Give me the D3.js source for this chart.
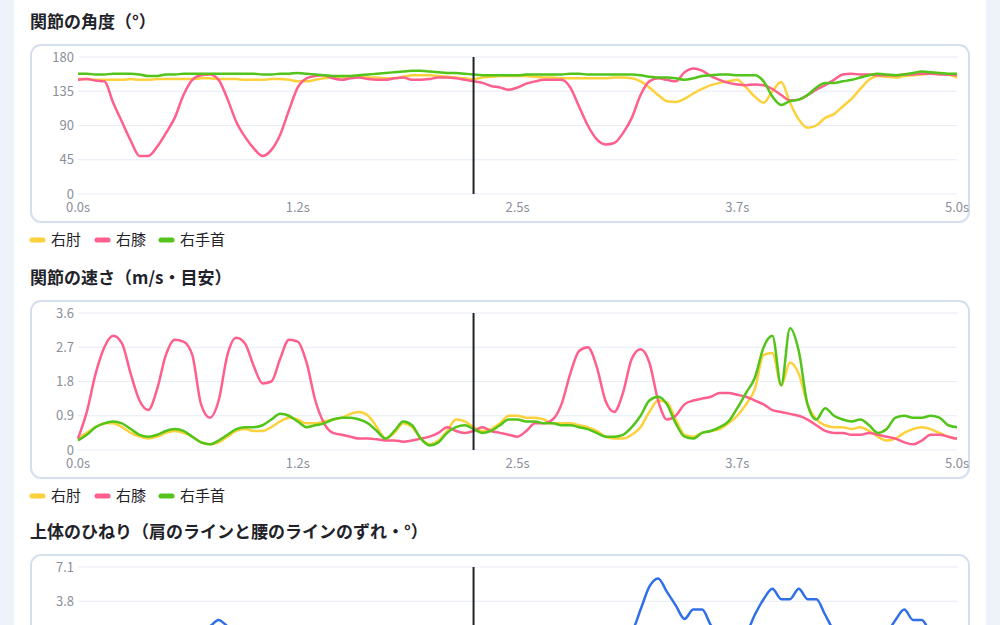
<!DOCTYPE html>
<html>
<head>
<meta charset="utf-8">
<script src="https://cdn.jsdelivr.net/npm/d3@7"></script>
<style>
  body { margin: 0; background: #eef2f9; font-family: "Noto Sans CJK JP", "Noto Sans", sans-serif; overflow: hidden; }
  #card { position: absolute; left: 14px; top: 0; width: 972px; height: 640px; background: #fff; }
</style>
</head>
<body>
<div id="card"></div>
<script>
// time samples every 0.05s, 0..5s
var times = d3.range(101).map(i => i * 0.05);
var markerTime = 2.25;
var xTickValues = [0, 1.25, 2.5, 3.75, 5];
var xTickLabels = ["0.0s", "1.2s", "2.5s", "3.7s", "5.0s"];

// chart 1: joint angles (deg)
var angleTicks = [0, 45, 90, 135, 180];
var angleElbow = [151,151,150,150,150,150,151,150,150,151,151,151,151,151,152,152,151,151,151,150,150,
  150,151,151,150,148,148,150,152,153,154,154,154,153,153,152,152,154,156,156,156,
  155,154,153,152,151,153,154,155,155,155,155,154,153,153,152,152,152,152,152,152,
  153,153,152,148,140,130,122,121,125,132,138,143,146,148,150,140,128,120,135,147,
  120,98,87,90,100,105,115,125,138,150,155,154,153,155,156,157,158,158,157,153];
var angleKnee = [150,151,149,148,120,95,70,50,50,62,80,100,130,150,156,157,150,125,95,75,60,
  50,58,78,110,140,152,155,156,152,150,152,153,151,150,150,152,153,150,150,
  151,153,153,152,150,148,146,142,140,137,
  140,145,148,150,150,150,140,115,90,72,65,67,80,100,130,148,152,150,148,160,
  165,162,155,150,146,144,143,144,143,138,130,123,124,130,137,143,150,157,158,157,
  157,156,156,156,157,157,158,158,157,157,156];
var angleWrist = [158,158,157,157,158,158,158,157,155,155,157,157,158,158,158,158,158,158,158,158,158,
  157,157,158,158,159,158,157,156,155,155,155,156,157,158,159,160,161,162,162,161,
  160,159,159,158,157,156,156,156,156,156,157,157,157,157,157,158,158,157,157,157,
  157,157,157,156,154,153,153,152,150,152,155,156,157,157,156,156,156,148,128,117,
  122,124,130,140,146,146,148,150,153,156,158,157,156,157,159,161,160,159,158,158];

// chart 2: joint speeds (m/s, rough)
var speedTicks = [0, 0.9, 1.8, 2.7, 3.6];
var speedElbow = [0.3,0.45,0.6,0.7,0.7,0.6,0.45,0.35,0.3,0.35,0.45,0.5,0.45,0.35,0.2,0.15,0.2,0.35,0.5,0.55,0.5,
  0.5,0.6,0.75,0.85,0.8,0.7,0.7,0.75,0.8,0.85,
  0.95,1.0,0.9,0.6,0.3,0.45,0.7,0.6,0.3,0.15,
  0.25,0.5,0.8,0.75,0.6,0.5,0.55,0.7,0.9,0.9,
  0.85,0.85,0.8,0.7,0.7,0.7,0.65,0.6,0.5,0.35,0.3,0.3,0.4,0.6,1.0,1.3,1.25,0.8,0.4,0.35,
  0.45,0.5,0.55,0.7,0.9,1.2,1.6,2.5,2.55,1.7,
  2.3,2.0,1.2,0.8,0.65,0.6,0.6,0.55,0.6,0.5,
  0.35,0.25,0.3,0.45,0.55,0.6,0.55,0.45,0.35,0.3];
var speedKnee = [0.3,1.0,2.0,2.7,3.0,2.8,2.0,1.3,1.05,1.6,2.5,2.9,2.85,2.5,1.2,0.85,1.3,2.5,2.95,2.8,2.2,
  1.75,1.8,2.4,2.9,2.85,2.3,1.3,0.7,0.45,0.4,
  0.35,0.3,0.3,0.28,0.25,0.25,0.22,0.25,0.3,0.35,0.45,0.6,0.5,0.45,0.5,0.6,0.5,0.45,0.4,0.35,
  0.5,0.7,0.7,0.8,1.2,2.0,2.6,2.7,2.2,1.3,1.0,1.5,2.4,2.65,2.3,1.3,0.8,0.9,1.2,1.3,1.35,
  1.4,1.5,1.5,1.45,1.4,1.3,1.2,1.05,1.0,0.95,0.9,0.8,0.65,0.5,0.45,
  0.45,0.4,0.4,0.45,0.4,0.35,0.3,0.2,0.15,0.25,0.4,0.4,0.35,0.3,0.25];
var speedWrist = [0.25,0.4,0.6,0.7,0.75,0.7,0.55,0.4,0.35,0.4,0.5,0.55,0.5,0.35,0.2,0.15,0.25,0.4,0.55,0.6,0.6,
  0.65,0.8,0.95,0.9,0.75,0.6,0.65,0.7,0.8,0.85,
  0.85,0.8,0.7,0.5,0.3,0.5,0.75,0.65,0.3,0.12,
  0.2,0.45,0.6,0.65,0.55,0.45,0.5,0.65,0.8,0.8,
  0.75,0.75,0.7,0.7,0.65,0.65,0.6,0.55,0.45,0.35,0.35,0.4,0.6,0.9,1.3,1.4,1.2,0.7,0.35,0.3,
  0.45,0.5,0.6,0.75,1.1,1.5,1.9,2.7,3.0,1.7,
  3.2,2.6,1.2,0.8,1.1,0.9,0.8,0.75,0.8,0.65,
  0.45,0.55,0.85,0.9,0.85,0.85,0.9,0.85,0.65,0.6];

// chart 3: upper body twist (deg)
var twistTicks = [-6.1, -2.8, 0.5, 3.8, 7.1];
var twistValues = [0.2,0.3,0.4,0.5,0.6,0.6,0.5,0.4,0.5,0.6,0.7,0.8,0.9,1.0,1.1,1.4,2.0,1.4,1.0,0.8,0.6,
  0.5,0.4,0.3,0.3,0.2,0.2,0.1,0.1,0.0,0.0,0.0,0.1,0.1,0.2,0.2,0.3,0.3,0.2,0.2,0.1,
  0.1,0.2,0.3,0.3,0.4,0.4,0.5,0.5,0.6,0.6,0.6,0.5,0.5,0.4,0.4,0.3,0.3,0.4,0.5,0.6,
  0.7,0.8,1.0,3.0,5.2,6.0,4.7,3.4,2.1,3.0,3.0,1.5,0.5,0.4,0.5,0.8,2.5,4.0,5.0,4.0,
  4.0,5.0,4.0,4.0,2.5,1.0,0.5,0.4,0.4,0.4,0.5,0.8,2.0,3.0,2.0,2.0,0.8,0.5,0.4,0.4];

var colors = { elbow: "#fdd13b", knee: "#ff5f8c", wrist: "#52c41a", twist: "#2f6fe8" };
var jointLegend = [["右肘", colors.elbow], ["右膝", colors.knee], ["右手首", colors.wrist]];

var svg = d3.select("body").append("svg")
    .attr("width", 1000).attr("height", 625)
    .style("position", "absolute").style("left", 0).style("top", 0);

function drawChart(top, title, ticks, tickFmt, series, legend) {
  var g = svg.append("g").attr("transform", `translate(0,${top})`);
  g.append("text").attr("x", 30).attr("y", 0).attr("dy", "0.35em")
    .attr("font-size", 17).attr("font-weight", 700).attr("fill", "#1f2329").text(title);

  g.append("rect").attr("x", 31).attr("y", 23).attr("width", 938).attr("height", 177)
    .attr("rx", 10).attr("fill", "#fff").attr("stroke", "#d6dfee").attr("stroke-width", 2);

  var x = d3.scaleLinear().domain([0, 5]).range([78, 957]);
  var y = d3.scaleLinear().domain([ticks[0], ticks[ticks.length - 1]]).range([172, 35]);

  g.append("g").selectAll("line").data(ticks).join("line")
    .attr("x1", 78).attr("x2", 957).attr("y1", d => y(d)).attr("y2", d => y(d))
    .attr("stroke", "#e6ebf4").attr("stroke-width", 1);
  g.append("g").selectAll("text").data(ticks).join("text")
    .attr("x", 74).attr("y", d => y(d)).attr("dy", "0.35em").attr("text-anchor", "end")
    .attr("font-size", 13).attr("fill", "#8a8f99").text(tickFmt);
  g.append("g").selectAll("text").data(xTickValues).join("text")
    .attr("x", d => x(d)).attr("y", 185).attr("dy", "0.35em").attr("text-anchor", "middle")
    .attr("font-size", 13).attr("fill", "#8a8f99").text((d, i) => xTickLabels[i]);

  var line = d3.line().x((d, i) => x(times[i])).y(d => y(d)).curve(d3.curveMonotoneX);
  series.forEach(s => {
    g.append("path").attr("d", line(s[0])).attr("fill", "none")
      .attr("stroke", s[1]).attr("stroke-width", 2.5).attr("stroke-linejoin", "round");
  });

  g.append("line").attr("x1", x(markerTime)).attr("x2", x(markerTime))
    .attr("y1", y.range()[1]).attr("y2", y.range()[0])
    .attr("stroke", "#1f2329").attr("stroke-width", 2);

  if (legend) {
    var lx = [30, 95, 159];
    legend.forEach((l, i) => {
      g.append("line").attr("x1", lx[i] + 2).attr("x2", lx[i] + 13).attr("y1", 218).attr("y2", 218)
        .attr("stroke", l[1]).attr("stroke-width", 5).attr("stroke-linecap", "round");
      g.append("text").attr("x", lx[i] + 21).attr("y", 218).attr("dy", "0.35em")
        .attr("font-size", 15).attr("fill", "#1f2329").text(l[0]);
    });
  }
}

drawChart(22, "関節の角度（°）", angleTicks, d => d,
  [[angleElbow, colors.elbow], [angleKnee, colors.knee], [angleWrist, colors.wrist]], jointLegend);
drawChart(278, "関節の速さ（m/s・目安）", speedTicks, d => d === 0 ? "0" : d.toFixed(1),
  [[speedElbow, colors.elbow], [speedKnee, colors.knee], [speedWrist, colors.wrist]], jointLegend);
drawChart(532, "上体のひねり（肩のラインと腰のラインのずれ・°）", twistTicks, d => d.toFixed(1),
  [[twistValues, colors.twist]], null);
</script>
</body>
</html>
